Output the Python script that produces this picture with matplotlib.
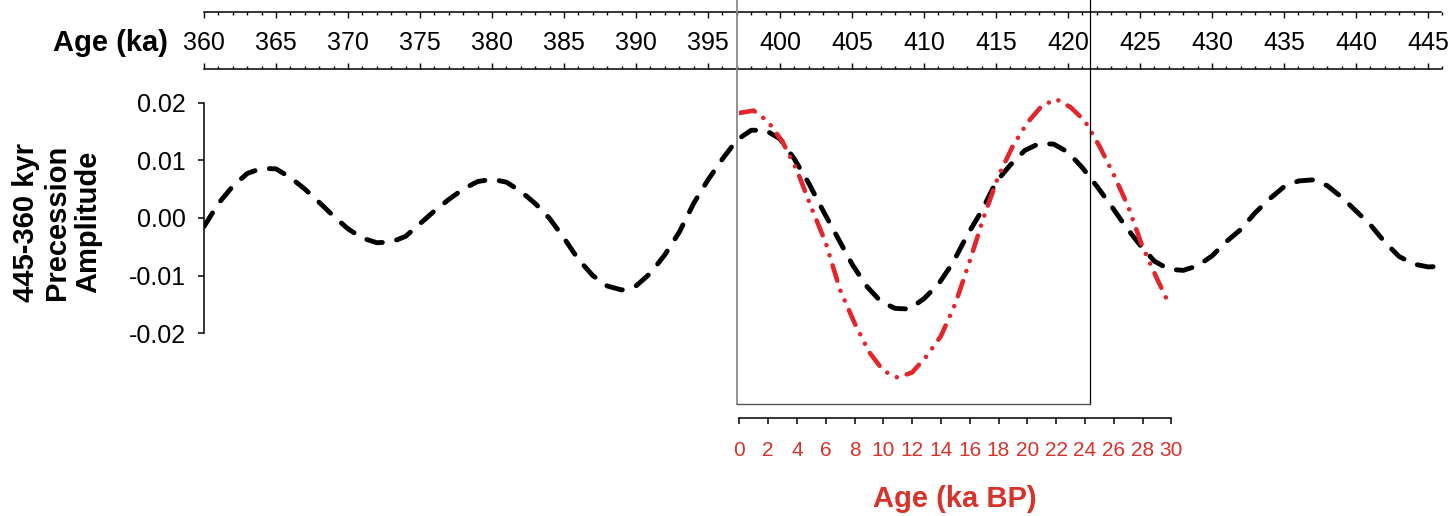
import matplotlib
matplotlib.use("Agg")
import matplotlib.pyplot as plt
import matplotlib.transforms as mtransforms
import numpy as np
from matplotlib.ticker import MultipleLocator, FormatStrFormatter

plt.rcParams['font.family'] = ['Liberation Sans', 'DejaVu Sans']
plt.rcParams['axes.unicode_minus'] = False

# 445-360 kyr precession component (age in ka)
age_ka = np.arange(360, 447)
precession = [
    -0.0015, 0.0025, 0.0055, 0.0077, 0.0086, 0.0085, 0.0070, 0.0050, 0.0027, 0.0003,
    -0.0019, -0.0035, -0.0043, -0.0042, -0.0032, -0.0010, 0.0012, 0.0032, 0.0050, 0.0063,
    0.0067, 0.0062, 0.0046, 0.0025, -0.0001, -0.0035, -0.0072, -0.0100, -0.0118, -0.0125,
    -0.0118, -0.0096, -0.0064, -0.0025, 0.0025, 0.0066, 0.0102, 0.0135, 0.0152, 0.0152,
    0.0137, 0.0102, 0.0060, 0.0012, -0.0034, -0.0080, -0.0118, -0.0145, -0.0157, -0.0158,
    -0.0140, -0.0115, -0.0078, -0.0030, 0.0012, 0.0062, 0.0092, 0.0117, 0.0129, 0.0128,
    0.0114, 0.0087, 0.0055, 0.0021, -0.0015, -0.0047, -0.0075, -0.0089, -0.0091, -0.0083,
    -0.0066, -0.0041, -0.0020, 0.0009, 0.0033, 0.0054, 0.0064, 0.0066, 0.0056, 0.0036,
    0.0012, -0.0012, -0.0042, -0.0067, -0.0080, -0.0085, -0.0084,
]

# recent precession (age in ka BP)
age_bp = [0, 1, 2, 3, 4, 5, 6, 7, 8, 9, 10, 11, 12, 13, 14, 15, 16, 17, 18, 19,
          20, 21, 22, 23, 24, 25, 26, 27, 28, 29, 29.7]
recent = [0.0182, 0.0186, 0.0167, 0.0132, 0.0083, 0.0018, -0.0043, -0.0125, -0.0182,
          -0.0232, -0.0265, -0.0277, -0.0268, -0.0240, -0.0205, -0.0149, -0.0075,
          0.0003, 0.0073, 0.0125, 0.0165, 0.0194, 0.0206, 0.0192, 0.0168, 0.0125,
          0.0075, 0.0020, -0.0050, -0.0105, -0.0142]

top_ticks = np.arange(360, 446, 5)
bp_ticks = np.arange(0, 31, 2)
y_ticks = [-0.02, -0.01, 0.0, 0.01, 0.02]

RED = '#e3262b'
LABEL_RED = '#d8322a'
W, H = 1451, 516
fig = plt.figure(figsize=(W / 100, H / 100), dpi=100)


def px_rect(x0, y0, x1, y1):
    return [x0 / W, 1 - y1 / H, (x1 - x0) / W, (y1 - y0) / H]


ylims = (-0.0347, 0.024)

# main panel
ax = fig.add_axes(px_rect(204, 79.5, 1442.4, 418))
ax.plot(age_ka, precession, color='black', lw=3.5, dashes=(3.3, 3.0),
        dash_capstyle='round')
ax.set_xlim(360, 446)
ax.set_ylim(*ylims)
for s in ['top', 'right', 'bottom']:
    ax.spines[s].set_visible(False)
ax.spines['left'].set_bounds(-0.02, 0.02)
ax.spines['left'].set_linewidth(1.1)
ax.set_xticks([])
ax.set_yticks(y_ticks)
ax.yaxis.set_major_formatter(FormatStrFormatter('%.2f'))
ax.tick_params(axis='y', direction='out', length=4, width=1.1, pad=9,
               labelsize=18)
ax.patch.set_alpha(0)

# red BP axis with the recent curve
axr = fig.add_axes(px_rect(739.3, 79.5, 1171.3, 418))
axr.plot(age_bp, recent, color=RED, lw=3.3,
         dashes=(3.5, 2.3, 0.01, 2.3, 0.01, 2.3), dash_capstyle='round')
axr.set_xlim(0, 30)
axr.set_ylim(*ylims)
for s in ['top', 'right', 'left']:
    axr.spines[s].set_visible(False)
axr.spines['bottom'].set_linewidth(1.1)
axr.set_yticks([])
axr.set_xticks(bp_ticks)
axr.tick_params(axis='x', direction='out', length=4.5, width=1.1, pad=12,
                labelsize=15, labelcolor=LABEL_RED)
axr.set_xlabel('Age (ka BP)', color=LABEL_RED, fontsize=21, fontweight='bold',
               labelpad=18)
axr.patch.set_alpha(0)

# top age ruler
axt = fig.add_axes(px_rect(204, 12, 1442.4, 69))
axt.set_xlim(360, 446)
axt.set_ylim(0, 1)
axt.spines['left'].set_visible(False)
axt.spines['right'].set_visible(False)
axt.spines['bottom'].set_bounds(360, 445.9)
axt.spines['top'].set_bounds(360, 445.9)
for s in ['top', 'bottom']:
    axt.spines[s].set_linewidth(1.1)
axt.set_yticks([])
axt.xaxis.set_minor_locator(MultipleLocator(1))
axt.set_xticks(top_ticks)
axt.tick_params(axis='x', which='both', direction='in', top=True, bottom=True,
                labelbottom=False, width=1.0)
axt.tick_params(axis='x', which='major', length=4.3)
axt.tick_params(axis='x', which='minor', length=2.4)
for t in top_ticks:
    axt.text(t, 0.46, f'{t}', ha='center', va='center', fontsize=18)
axt.patch.set_alpha(0)
fig.text(168 / W, 1 - 43 / H, 'Age (ka)', ha='right', va='center',
         fontsize=21, fontweight='bold')

# comparison window
x_left, x_right = 397.0, 421.5
box_bottom = 1 - 404 / H
btrans = mtransforms.blended_transform_factory(ax.transData, fig.transFigure)
fig.add_artist(plt.Line2D([x_left, x_left], [box_bottom, 1.0], color='#8a8a8a',
                          lw=1.3, transform=btrans))
fig.add_artist(plt.Line2D([x_right, x_right], [box_bottom, 1.0], color='black',
                          lw=0.9, transform=btrans))
fig.add_artist(plt.Line2D([x_left, x_right], [box_bottom, box_bottom],
                          color='#555555', lw=1.0, transform=btrans))

fig.text(57 / W, 1 - 222 / H, '445-360 kyr\nPrecession\nAmplitude',
         rotation=90, ha='center', va='center', multialignment='center',
         fontsize=21, fontweight='bold', linespacing=1.15)

fig.savefig('out.png', dpi=100)
